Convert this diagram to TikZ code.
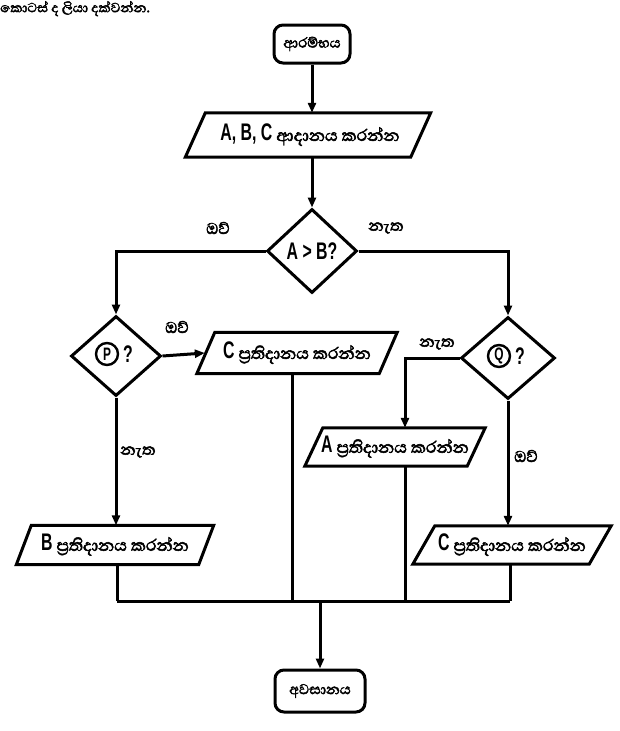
\documentclass[tikz,border=0pt]{standalone}
\usepackage{fontspec}
\setmainfont{Abhaya Libre}[Script=Sinhala,FakeBold=2.5]
\newfontfamily\lat{Liberation Sans Bold}[FakeStretch=0.66]
\usetikzlibrary{shapes.geometric,arrows.meta}
\tikzset{
  ln/.style={line width=3pt},
  arr/.style={ln,-{Triangle[length=10pt,width=8pt]}},
  term/.style={draw,ln,rounded corners=9pt,inner sep=2pt},
  io/.style={rectangle,inner sep=0pt},
  dia/.style={draw,ln,diamond,inner sep=2pt},
  txt/.style={font=\fontsize{21}{23}\selectfont,inner sep=0pt},
  lbl/.style={font=\fontsize{20}{22}\selectfont,inner sep=0pt},
  big/.style={font=\lat\fontsize{24}{26}\selectfont},
  circ/.style={draw,circle,line width=2.4pt,minimum size=22pt,inner sep=0pt,
    font=\lat\fontsize{18}{20}\selectfont}
}
\newcommand\myparal[2]{\draw[ln,line join=miter] ([xshift=#2]#1.north west) -- (#1.north east) -- ([xshift=-#2]#1.south east) -- (#1.south west) -- cycle;}
\newcommand\LL[1]{{\lat\fontsize{24}{26}\selectfont #1}}
\begin{document}
\begin{tikzpicture}[x=1pt,y=-1pt]
\useasboundingbox (0,0) rectangle (620,731);
\node[anchor=north west,font=\fontsize{17}{19}\selectfont,inner sep=0pt] (cap) at (0,1) {කොටස් ද ලියා දක්වන්න.};
\node[term,minimum width=76pt,minimum height=38pt] (start) at (312,44) {\strut};
\node[txt,font=\fontsize{18}{20}\selectfont] (startt) at (start) {ආරම්භය};
\node[io,minimum width=245pt,minimum height=44pt] (inp) at (308,135) {};
\myparal{inp}{20pt}
\node[txt] (inpt) at ([xshift=2pt]inp) {\LL{A, B, C} ආදානය කරන්න};
\node[dia,minimum width=90pt,minimum height=84pt] (d1) at (312,251) {\strut};
\node[big] (d1t) at (d1) {A > B?};
\node[dia,minimum width=90pt,minimum height=80pt] (dP) at (116,356) {\strut};
\node[circ] (pc) at (107,354) {P};
\node[big,inner sep=0pt] (pq) at (128,354) {?};
\node[dia,minimum width=94pt,minimum height=82pt] (dQ) at (508,358) {\strut};
\node[circ] (qc) at (499,356) {Q};
\node[big,inner sep=0pt] (qq) at (520,356) {?};
\node[io,minimum width=200pt,minimum height=41pt] (oC1) at (297,353) {};
\myparal{oC1}{18pt}
\node[txt] (oC1t) at (oC1) {\LL{C} ප්‍රතිදානය කරන්න};
\node[io,minimum width=180pt,minimum height=38pt] (oA) at (395,447) {};
\myparal{oA}{18pt}
\node[txt] (oAt) at (oA) {\LL{A} ප්‍රතිදානය කරන්න};
\node[io,minimum width=197pt,minimum height=39pt] (oB) at (115,545) {};
\myparal{oB}{15pt}
\node[txt] (oBt) at (oB) {\LL{B} ප්‍රතිදානය කරන්න};
\node[io,minimum width=198pt,minimum height=38pt] (oC2) at (512,545) {};
\myparal{oC2}{22pt}
\node[txt] (oC2t) at (oC2) {\LL{C} ප්‍රතිදානය කරන්න};
\node[term,minimum width=90pt,minimum height=42pt] (end) at (320,691) {\strut};
\node[txt,font=\fontsize{18}{20}\selectfont] (endt) at (end) {අවසානය};
% coordinates
\coordinate (mL) at (117,601);
\coordinate (mR) at (510,601);
\coordinate (mC) at (320,601);
\coordinate (qa) at (405,358);
\coordinate (c1) at (292,374);
% connectors
\draw[arr] (start) -- (start |- inp.north);
\draw[arr] (inp.south -| d1) -- (d1.north);
\draw[arr] (d1.west) -| (dP.north);
\draw[arr] (d1.east) -| (dQ.north);
\draw[arr] (dP.east) -- ([xshift=8pt]oC1.west);
\draw[arr] (dQ.west) -- (qa) -- (qa |- oA.north);
\draw[arr] (dQ.south) -- (dQ.south |- oC2.north);
\draw[arr] (dP.south) -- (dP.south |- oB.north);
\draw[ln] (c1) -- (c1 |- mL);
\draw[ln] (qa |- oA.south) -- (qa |- mL);
\draw[ln] (oB.south -| mL) -- (mL);
\draw[ln] (oC2.south -| mR) -- (mR);
\draw[ln] (mL) -- (mR);
\draw[arr] (mC) -- (end.north);
% labels
\node[lbl] (l1) at (218,228) {ඔව්};
\node[lbl] (l2) at (386,228) {නැත};
\node[lbl] (l3) at (177,327) {ඔව්};
\node[lbl] (l4) at (437,344) {නැත};
\node[lbl] (l5) at (138,452) {නැත};
\node[lbl] (l6) at (526,456) {ඔව්};
\end{tikzpicture}
\end{document}
